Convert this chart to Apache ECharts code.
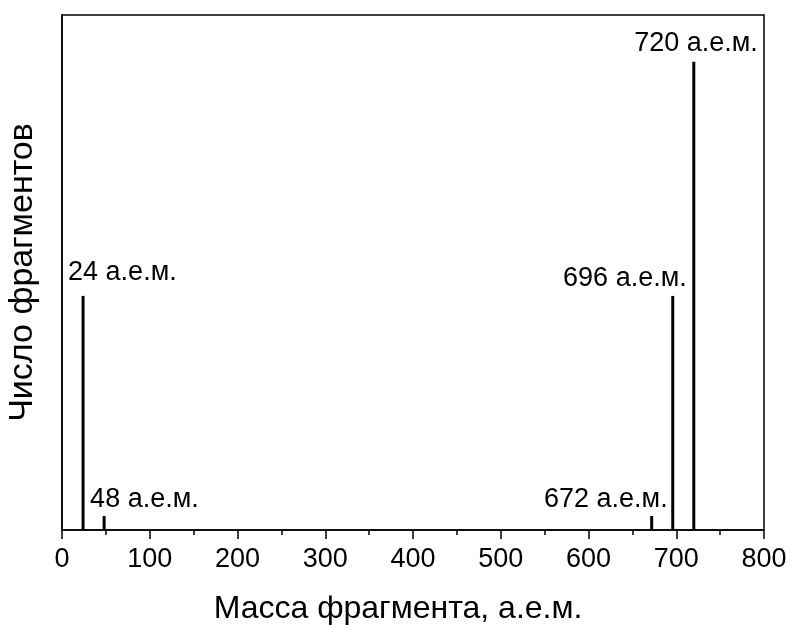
<!DOCTYPE html>
<html>
<head>
<meta charset="utf-8">
<script src="https://cdn.jsdelivr.net/npm/echarts@6/dist/echarts.min.js"></script>
<style>html,body{margin:0;padding:0;background:#fff}#c{width:791px;height:625px}</style>
</head>
<body>
<div id="c"></div>
<script>
// Data
var masses = [24, 48, 672, 696, 720];
var counts = [50, 3, 3, 50, 100];
var xTicks = [0, 100, 200, 300, 400, 500, 600, 700, 800];
var xTitle = 'Масса фрагмента, а.е.м.';
var yTitle = 'Число фрагментов';
var unit = ' а.е.м.';

// label styling per peak (presentation only)
var labelStyle = {
  24: {align: 'left', offset: [-15, -5]},
  48: {align: 'left', offset: [-14, 2]},
  672: {align: 'right', offset: [16, 2]},
  696: {align: 'right', offset: [14, 1]},
  720: {align: 'right', offset: [64, 0]}
};

var FONT = '"Liberation Sans", Arial, sans-serif';
var chart = echarts.init(document.getElementById('c'));
var seriesData = masses.map(function (m, i) {
  var ls = labelStyle[m];
  return {
    value: [m, counts[i]],
    label: {align: ls.align, offset: ls.offset}
  };
});
chart.setOption({
  animation: false,
  grid: {left: 62, right: 27, top: 15, bottom: 95, containLabel: false, outerBoundsMode: 'none',
    show: true, borderColor: '#000', borderWidth: 1.5, backgroundColor: 'transparent'},
  xAxis: {
    type: 'value', min: 0, max: 800, interval: 100,
    name: xTitle, nameLocation: 'middle', nameGap: 63,
    nameTextStyle: {fontFamily: FONT, fontSize: 32, color: '#000', padding: [0, 30, 0, 0]},
    axisLine: {show: true, onZero: false, lineStyle: {color: '#000', width: 1.5}},
    axisTick: {show: true, inside: false, length: 9, lineStyle: {color: '#000', width: 1.5}},
    minorTick: {show: true, splitNumber: 2, length: 5, lineStyle: {color: '#000', width: 1.5}},
    splitLine: {show: false},
    axisLabel: {fontFamily: FONT, fontSize: 27, color: '#000', margin: 16,
      formatter: function (v) { return xTicks.indexOf(v) >= 0 ? String(v) : ''; }}
  },
  yAxis: {
    type: 'value', min: 0, max: 110,
    name: yTitle, nameLocation: 'middle', nameGap: 22,
    nameTextStyle: {fontFamily: FONT, fontSize: 34, color: '#000'},
    axisLine: {show: true, lineStyle: {color: '#000', width: 1.5}},
    axisTick: {show: false}, axisLabel: {show: false}, splitLine: {show: false}
  },
  series: [{
    type: 'bar', barWidth: 3,
    itemStyle: {color: '#000'},
    label: {show: true, position: 'top', distance: 5, fontFamily: FONT, fontSize: 27, color: '#000',
      formatter: function (p) { return p.value[0] + unit; }},
    data: seriesData
  }]
});
</script>
</body>
</html>
